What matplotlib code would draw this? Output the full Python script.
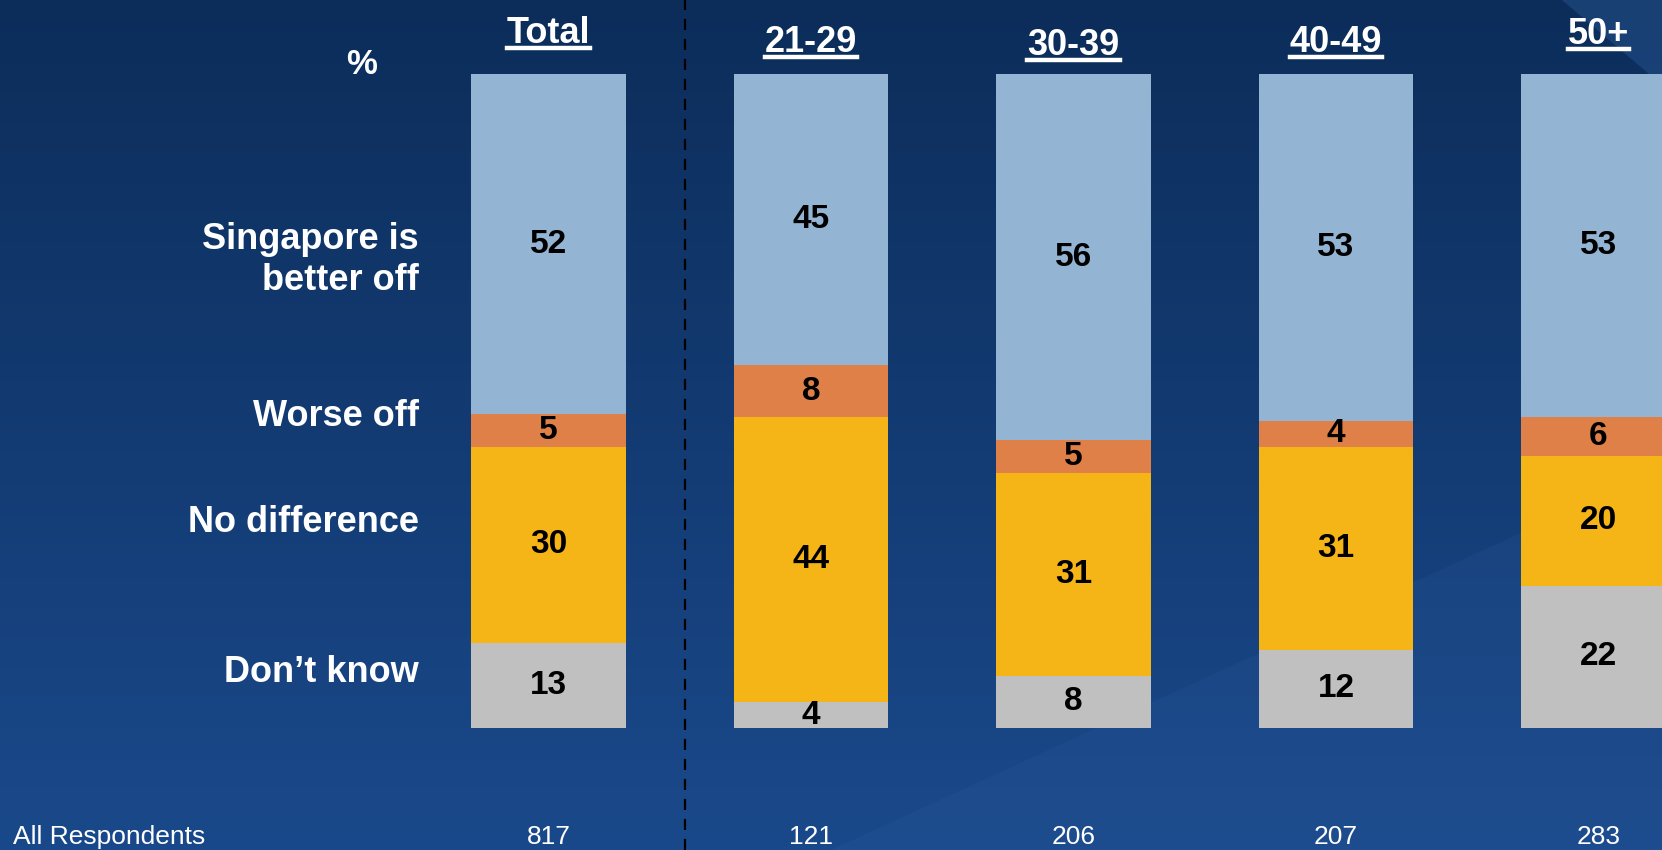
import numpy as np
import matplotlib
matplotlib.use('Agg')
from matplotlib import pyplot as plt
from matplotlib.patches import Polygon
from matplotlib.lines import Line2D

groups = ['Total', '21-29', '30-39', '40-49', '50+']
base_n = ['817', '121', '206', '207', '283']
answers = ['Singapore is\nbetter off', 'Worse off', 'No difference', 'Don\u2019t know']
better_off = [52, 45, 56, 53, 53]
worse_off = [5, 8, 5, 4, 6]
no_diff = [30, 44, 31, 31, 20]
dont_know = [13, 4, 8, 12, 22]

colors = ['#93b5d3', '#df8049', '#f6b517', '#c0c0c0']
arial = ['Liberation Sans', 'DejaVu Sans']

W, H = 1662, 850
fig = plt.figure(figsize=(W / 100, H / 100), dpi=100)
ax = fig.add_axes([0, 0, 1, 1])

# background gradient
grad = np.linspace(0, 1, 256).reshape(-1, 1)
top = np.array([0x0c, 0x2d, 0x5a]) / 255
bot = np.array([0x1a, 0x49, 0x8b]) / 255
img = top + (bot - top) * grad[..., None]
ax.imshow(img, extent=[0, 1, 0, 1], transform=ax.transAxes, aspect='auto', zorder=0)
ax.add_patch(Polygon([[0.5, 0], [1, 0], [1, 0.45]], closed=True, transform=ax.transAxes,
                     facecolor='#3a6cb0', alpha=0.12, edgecolor='none', zorder=0.5))
ax.add_patch(Polygon([[0.94, 1], [1, 1], [1, 0.9]], closed=True, transform=ax.transAxes,
                     facecolor='#3a6cb0', alpha=0.3, edgecolor='none', zorder=0.5))

series = [better_off, worse_off, no_diff, dont_know]
totals = np.array(better_off) + np.array(worse_off) + np.array(no_diff) + np.array(dont_know)
x = np.arange(len(groups))
bottom = np.full(len(groups), 100.0)
for vals, c in zip(series, colors):
    h = np.array(vals) / totals * 100
    bottom = bottom - h
    ax.bar(x, h, bottom=bottom, width=0.59, color=c, edgecolor='none', zorder=2)
    for xi, b, hi, v in zip(x, bottom, h, vals):
        ax.text(xi, b + hi / 2, str(v), ha='center', va='center', fontsize=24,
                fontweight='bold', family=arial, color='black', zorder=3)

step = 262.5
left = -548.5 / step
ax.set_xlim(left, left + W / step)
ylo = -122 / 6.54
ax.set_ylim(ylo, ylo + H / 6.54)
ax.axis('off')

ax.axvline(0.52, color='black', linestyle=(0, (5, 4)), linewidth=1.6, zorder=1)

def px(xp, yp):
    return xp / W, 1 - yp / H

# group headings, underlined
head_y = [43, 52, 55, 52, 44]
heads = []
for xi, g, hy in zip(x, groups, head_y):
    t = fig.text((548.5 + xi * step) / W, 1 - hy / H, g, ha='center', va='baseline',
                 fontsize=26, fontweight='bold', family=arial, color='white')
    heads.append(t)
fig.text(*px(362, 65), '%', ha='center', va='center', fontsize=25,
         fontweight='bold', family=arial, color='white')

# answer labels
label_y = [260, 417, 523, 672]
for a, ly in zip(answers, label_y):
    fig.text(*px(419, ly), a, ha='right', va='center', fontsize=26, fontweight='bold',
             family=arial, color='white', linespacing=1.2)

# base sizes
fig.text(*px(13, 837), 'All Respondents', ha='left', va='center', fontsize=19,
         family=arial, color='white')
for xi, n in zip(x, base_n):
    fig.text((548.5 + xi * step) / W, 1 - 837 / H, n, ha='center', va='center',
             fontsize=19, family=arial, color='white')

fig.canvas.draw()
r = fig.canvas.get_renderer()
for t, hy in zip(heads, head_y):
    bb = t.get_window_extent(r)
    yl = H - hy - 5
    fig.add_artist(Line2D([bb.x0 / W, bb.x1 / W], [yl / H, yl / H], color='white',
                          linewidth=3.2, transform=fig.transFigure))

fig.savefig('out.png', dpi=100)
